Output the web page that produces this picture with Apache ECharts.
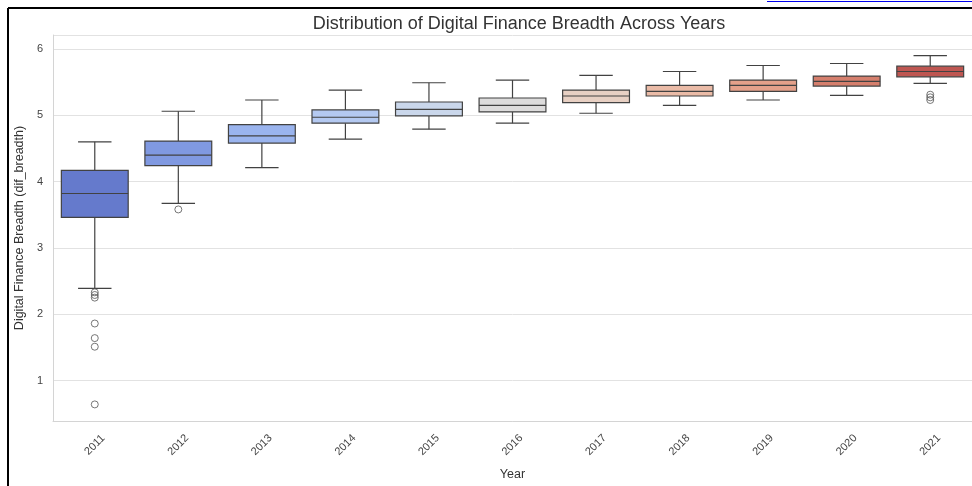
<!DOCTYPE html>
<html>
<head>
<meta charset="utf-8">
<script src="https://cdn.jsdelivr.net/npm/echarts@6/dist/echarts.min.js"></script>
<style>html,body{margin:0;padding:0;background:#fff;}#c{width:972px;height:486px;}</style>
</head>
<body>
<div id="c"></div>
<script>
const years = ['2011','2012','2013','2014','2015','2016','2017','2018','2019','2020','2021'];
const whiskerLow  = [2.39, 3.67, 4.21, 4.64, 4.79, 4.88, 5.03, 5.15, 5.23, 5.30, 5.48];
const q1          = [3.46, 4.24, 4.58, 4.88, 4.99, 5.05, 5.19, 5.29, 5.36, 5.44, 5.58];
const medians     = [3.82, 4.40, 4.69, 4.97, 5.09, 5.15, 5.29, 5.36, 5.45, 5.51, 5.66];
const q3          = [4.17, 4.61, 4.86, 5.08, 5.20, 5.26, 5.38, 5.45, 5.53, 5.59, 5.74];
const whiskerHigh = [4.60, 5.06, 5.23, 5.38, 5.49, 5.53, 5.60, 5.66, 5.75, 5.78, 5.90];
const outlierYears  = ['2011','2011','2011','2011','2011','2011','2011','2012','2021','2021','2021'];
const outlierValues = [2.33, 2.29, 2.25, 1.86, 1.64, 1.51, 0.64, 3.58, 5.31, 5.27, 5.23];
const yTicks = [1, 2, 3, 4, 5, 6];

// coolwarm anchors (11 steps 0..1)
const cwAnchors = ['#3b4cc0','#5977e3','#7b9ff9','#9ebeff','#c0d4f5','#dddcdc','#f2cbb7','#f7ac8e','#ee8468','#d65244','#b40426'];
function hex2rgb(h){return [parseInt(h.slice(1,3),16),parseInt(h.slice(3,5),16),parseInt(h.slice(5,7),16)];}
function cw(t){
  const p = t*10, i = Math.min(9, Math.floor(p)), f = p - i;
  const a = hex2rgb(cwAnchors[i]), b = hex2rgb(cwAnchors[i+1]);
  return a.map((v,k)=>(v + (b[k]-v)*f)/255);
}
function desat(rgb, s){
  const [r,g,b] = rgb, mx=Math.max(r,g,b), mn=Math.min(r,g,b), L=(mx+mn)/2;
  if (mx===mn) return rgb;
  const S = L<=0.5 ? (mx-mn)/(mx+mn) : (mx-mn)/(2-mx-mn);
  const S2 = S*s;
  const C2 = L<=0.5 ? S2*(2*L) : S2*(2-2*L);
  const mx2 = L + C2/2, mn2 = L - C2/2;
  return rgb.map(v => mn2 + (v-mn)/(mx-mn)*(mx2-mn2));
}
function toHex(rgb){return '#'+rgb.map(v=>Math.round(Math.max(0,Math.min(1,v))*255).toString(16).padStart(2,'0')).join('');}
const palette = years.map((_,i)=>toHex(desat(cw((i+1)/(years.length+1)), 0.75)));

const lineColor = '#424242';
const boxData = years.map((y,i)=>[i, whiskerLow[i], q1[i], medians[i], q3[i], whiskerHigh[i]]);

function renderBox(params, api){
  const i = api.value(0);
  const band = api.size([1,0])[0];
  const bw = band*0.8, cwid = band*0.4;
  const pLow = api.coord([i, api.value(1)]);
  const pQ1 = api.coord([i, api.value(2)]);
  const pMed = api.coord([i, api.value(3)]);
  const pQ3 = api.coord([i, api.value(4)]);
  const pHigh = api.coord([i, api.value(5)]);
  const cx = pLow[0];
  const ls = {stroke: lineColor, lineWidth: 1.2};
  return {type:'group', children:[
    {type:'line', shape:{x1:cx,y1:pLow[1],x2:cx,y2:pQ1[1]}, style:ls},
    {type:'line', shape:{x1:cx,y1:pQ3[1],x2:cx,y2:pHigh[1]}, style:ls},
    {type:'line', shape:{x1:cx-cwid/2,y1:pLow[1],x2:cx+cwid/2,y2:pLow[1]}, style:ls},
    {type:'line', shape:{x1:cx-cwid/2,y1:pHigh[1],x2:cx+cwid/2,y2:pHigh[1]}, style:ls},
    {type:'rect', shape:{x:cx-bw/2, y:pQ3[1], width:bw, height:pQ1[1]-pQ3[1]}, style:{fill:palette[i], stroke:lineColor, lineWidth:1.2}},
    {type:'line', shape:{x1:cx-bw/2,y1:pMed[1],x2:cx+bw/2,y2:pMed[1]}, style:ls}
  ]};
}

const chart = echarts.init(document.getElementById('c'), null, {renderer:'canvas'});
const font = 'Liberation Sans, Arial, sans-serif';
chart.setOption({
  animation:false,
  backgroundColor:'#fff',
  title:{text:'Distribution of Digital Finance Breadth Across Years', left:514, top:10, textAlign:'center',
    textStyle:{fontFamily:font, fontSize:18, fontWeight:'normal', color:'#333'}},
  grid:{left:53, top:35, width:924, height:390},
  xAxis:{type:'category', data:years, boundaryGap:true,
    name:'Year', nameLocation:'middle', nameGap:47,
    nameTextStyle:{fontFamily:font, fontSize:12.5, color:'#333'},
    axisTick:{show:false},
    axisLine:{show:true, lineStyle:{color:'#d4d4d4', width:1}},
    splitLine:{show:false},
    axisLabel:{rotate:45, fontFamily:font, fontSize:11, color:'#444', margin:24, align:'center', verticalAlign:'middle', interval:0}},
  yAxis:{type:'value', min:0.39, max:6.21, splitNumber:6,
    name:'Digital Finance Breadth (dif_breadth)', nameLocation:'middle', nameGap:26,
    nameTextStyle:{fontFamily:font, fontSize:12.5, color:'#333'},
    axisLine:{show:true, lineStyle:{color:'#d4d4d4', width:1}},
    axisTick:{show:false},
    splitLine:{show:true, lineStyle:{color:'#e2e2e2', width:1}},
    axisLabel:{fontFamily:font, fontSize:11, color:'#444', margin:10,
      formatter: v => yTicks.indexOf(Math.round(v*1000)/1000) >= 0 ? String(Math.round(v)) : ''}},
  graphic:[
    {type:'line', shape:{x1:8,y1:8,x2:8,y2:486}, style:{stroke:'#000', lineWidth:2}, z:100},
    {type:'line', shape:{x1:8,y1:8,x2:972,y2:8}, style:{stroke:'#000', lineWidth:2}, z:100},
    {type:'line', shape:{x1:767,y1:1.5,x2:972,y2:1.5}, style:{stroke:'#0000ee', lineWidth:1}, z:100}
  ],
  series:[
    {type:'custom', renderItem:renderBox, data:boxData, encode:{x:0, y:[1,2,3,4,5]}, z:2},
    {type:'scatter', data:outlierYears.map((y,i)=>[y, outlierValues[i]]), symbol:'circle', symbolSize:7,
      itemStyle:{color:'rgba(255,255,255,0)', borderColor:'#555', borderWidth:1}, z:3}
  ]
});
</script>
</body>
</html>
